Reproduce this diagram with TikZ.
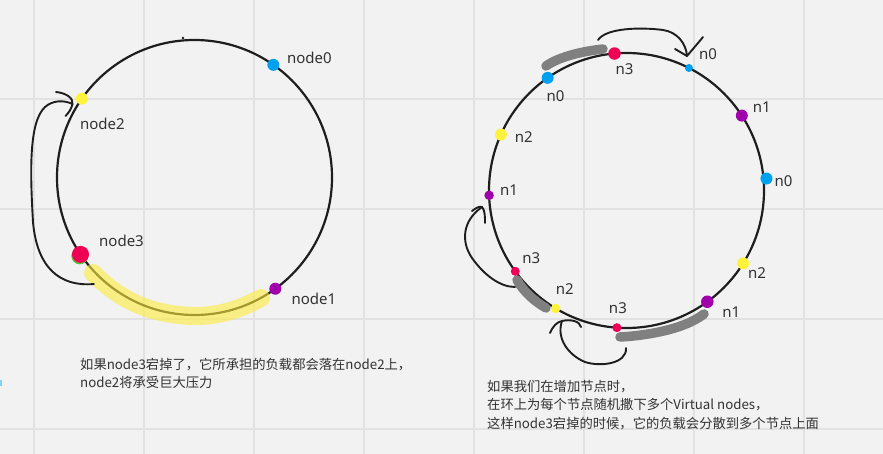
\documentclass[tikz,border=0pt]{standalone}
\usepackage{fontspec}
\setmainfont{Noto Sans}
\newfontfamily\cjk{Noto Sans CJK SC}
\usepackage{xcolor}
\definecolor{boardbg}{RGB}{242,242,242}
\definecolor{gridline}{RGB}{226,226,226}
\definecolor{inkline}{RGB}{30,30,30}
\definecolor{nodeblue}{RGB}{0,160,240}
\definecolor{nodeyellow}{RGB}{255,242,60}
\definecolor{nodered}{RGB}{240,0,85}
\definecolor{nodepurple}{RGB}{160,0,170}
\definecolor{nodegreen}{RGB}{90,200,60}
\definecolor{markgray}{RGB}{128,128,128}
\definecolor{hiyellow}{RGB}{252,236,60}
\definecolor{labeltext}{RGB}{50,50,50}
\usetikzlibrary{calc}
\tikzset{
  ring/.style={
    circle, draw=inkline, line width=2.2pt,
    minimum size=275pt, inner sep=0pt, outer sep=0pt},
  vdot/.style={
    circle, fill=#1, inner sep=0pt, minimum size=12pt},
  lbl/.style={
    inner sep=0pt, text=labeltext, font=\fontsize{15}{18}\selectfont},
  note/.style={
    inner sep=0pt, anchor=north west, align=left,
    text=labeltext, font=\cjk\fontsize{13.3}{18.5}\selectfont},
  hand/.style={draw=inkline, line width=1.9pt, line cap=round, line join=round},
  smear/.style={draw=markgray, line width=9.5pt, line cap=round},
  glow/.style={draw=hiyellow, line width=18pt, line cap=round, opacity=0.6},
}

\begin{document}
\begin{tikzpicture}[x=1pt, y=-1pt]
  \fill[boardbg] (0,0) rectangle (883,454);
  \useasboundingbox (0,0) rectangle (883,454);
  \foreach \gx in {34,144,...,804}
    \draw[gridline, line width=1.5pt] (\gx,0) -- (\gx,454);
  \foreach \gy in {99,209,...,429}
    \draw[gridline, line width=1.5pt] (0,\gy) -- (883,\gy);
  \fill[nodeblue!50] (0,380) rectangle (1.5,386);

  % single hash ring
  \node[ring] (ringL) at (194.5,177.5) {};
  \fill[inkline] (183,38) circle (1.3pt);
  \draw[glow] (93,273) .. controls (120,300) and (150,315) .. (195,316)
    .. controls (225,316) and (245,306) .. (261,298);
  \node[vdot=nodeblue] (d0) at (ringL.55) {};
  \node[vdot=nodeyellow] (d2) at (ringL.145) {};
  \node[vdot=nodegreen, minimum size=17pt] (d3rim) at ($(ringL.214.6)+(-0.7,1.5)$) {};
  \node[vdot=nodered, minimum size=17pt] (d3) at (ringL.214.6) {};
  \node[vdot=nodepurple] (d1) at (ringL.306) {};
  \node[lbl] (t0) at ($(d0)+(36,-7)$) {node0};
  \node[lbl] (t2) at ($(d2)+(20.5,25)$) {node2};
  \node[lbl] (t3) at ($(d3)+(41,-14)$) {node3};
  \node[lbl] (t1) at ($(d1)+(38.5,10)$) {node1};

  \coordinate (fromL) at (94,284);
  \coordinate (tipL) at (72.5,104);
  \draw[hand] (fromL) .. controls (60,287) and (37,268) .. (33,222)
    .. controls (30,170) and (29,122) .. (45,107)
    .. controls (53,100) and (64,100) .. (tipL);
  \draw[hand] ([shift={(-16.5,-12)}]tipL) .. controls +(10,1) and +(1,-6) .. (tipL)
    .. controls +(-1,5) and +(3,-3) .. ([shift={(-7,12)}]tipL);

  \node[note] (noteL) at (80,358)
    {如果node3宕掉了，它所承担的负载都会落在node2上，\\node2将承受巨大压力};

  % ring with virtual nodes
  \node[ring] (ringR) at (626.5,190.5) {};
  \draw[smear] (546,66) .. controls (560,56) and (585,51) .. (603,49);
  \draw[smear] (517,280) .. controls (524,292) and (534,301) .. (546,308);
  \draw[smear] (620,337) .. controls (640,336) and (682,331) .. (704,314);
  \node[vdot=nodered, minimum size=12.5pt] (r3a) at (ringR.95.6) {};
  \node[vdot=nodeblue, minimum size=8pt] (r0a) at (ringR.63.9) {};
  \node[vdot=nodeblue] (r0b) at (ringR.125) {};
  \node[vdot=nodepurple] (r1a) at (ringR.33.2) {};
  \node[vdot=nodeyellow] (r2a) at (ringR.156.1) {};
  \node[vdot=nodeblue] (r0c) at ($(ringR.5.9)+(3,0)$) {};
  \node[vdot=nodepurple, minimum size=9.5pt] (r1b) at (ringR.182.7) {};
  \node[vdot=nodeyellow] (r2b) at (ringR.328.2) {};
  \node[vdot=nodered, minimum size=9pt] (r3b) at (ringR.216.5) {};
  \node[vdot=nodeyellow, minimum size=9.5pt] (r2c) at (ringR.239) {};
  \node[vdot=nodepurple, minimum size=12.5pt] (r1c) at (ringR.306) {};
  \node[vdot=nodered, minimum size=9pt] (r3c) at (ringR.266.4) {};
  \node[lbl] (s3a) at ($(r3a)+(10,16)$) {n3};
  \node[lbl] (s0a) at ($(r0a)+(19,-14)$) {n0};
  \node[lbl] (s0b) at ($(r0b)+(8,18)$) {n0};
  \node[lbl] (s1a) at ($(r1a)+(20,-8)$) {n1};
  \node[lbl] (s2a) at ($(r2a)+(23,2)$) {n2};
  \node[lbl] (s0c) at ($(r0c)+(17,3)$) {n0};
  \node[lbl] (s1b) at ($(r1b)+(20,-5)$) {n1};
  \node[lbl] (s2b) at ($(r2b)+(14,10)$) {n2};
  \node[lbl] (s3b) at ($(r3b)+(16,-13)$) {n3};
  \node[lbl] (s2c) at ($(r2c)+(9,-19)$) {n2};
  \node[lbl] (s1c) at ($(r1c)+(24,10)$) {n1};
  \node[lbl] (s3c) at ($(r3c)+(1,-20)$) {n3};

  \coordinate (fromT) at (598,40);
  \coordinate (tipT) at (687,56);
  \draw[hand] (fromT) .. controls (606,28) and (640,27) .. (663,30)
    .. controls (677,32) and (686,43) .. (tipT);
  \draw[hand] ([shift={(-12,-7)}]tipT) -- (tipT)
    .. controls +(5,-6) and +(-4,5) .. ([shift={(16,-19)}]tipT);

  \coordinate (fromW) at (515,287);
  \coordinate (tipW) at (482,207);
  \draw[hand] (fromW) .. controls (500,287) and (484,275) .. (472,258)
    .. controls (461,242) and (462,221) .. (tipW);
  \draw[hand] ([shift={(-10,4)}]tipW) .. controls +(4,-3) and +(-3,-1) .. (tipW)
    .. controls +(3,3) and +(0,-6) .. ([shift={(3,16)}]tipW);

  \coordinate (fromB) at (626,348);
  \coordinate (tipB) at (562,321);
  \draw[hand] (fromB) .. controls (627,364) and (600,367) .. (585,362)
    .. controls (568,355) and (556,338) .. (tipB);
  \draw[hand] ([shift={(-12,12)}]tipB) .. controls +(3,-7) and +(-5,1) .. (tipB)
    .. controls +(8,-2) and +(-1,-6) .. ([shift={(19,6)}]tipB);

  \node[note] (noteR) at (487,380)
    {如果我们在增加节点时，\\在环上为每个节点随机撒下多个Virtual nodes，\\这样node3宕掉的时候，它的负载会分散到多个节点上面};
\end{tikzpicture}
\end{document}
